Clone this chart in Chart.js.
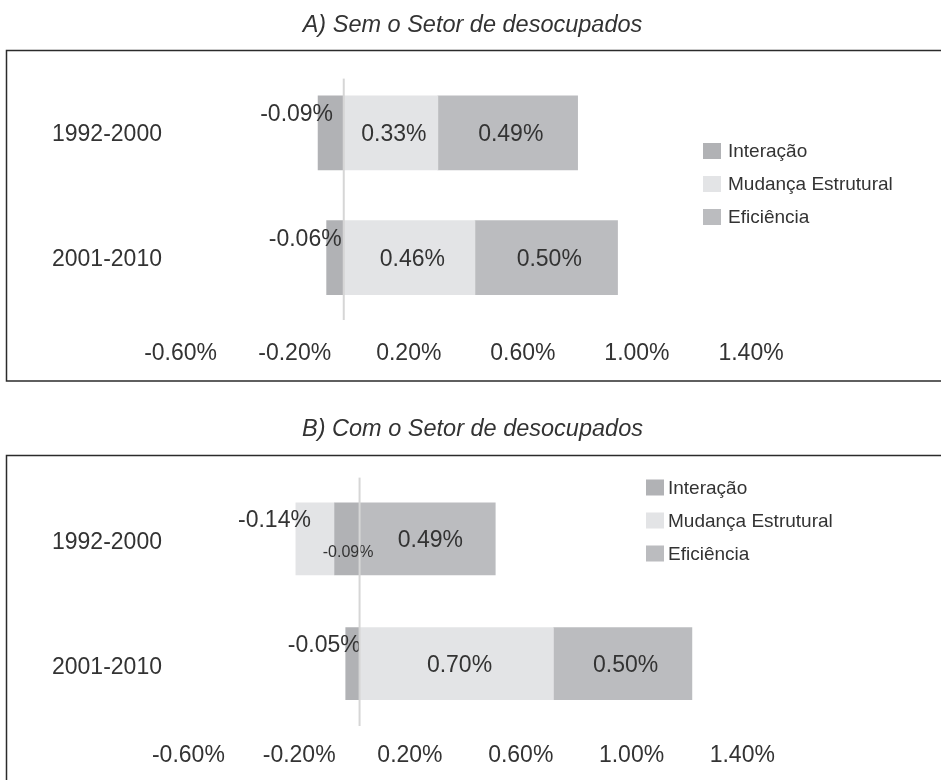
<!DOCTYPE html>
<html lang="pt">
<head>
<meta charset="utf-8">
<title>Decomposição</title>
<script src="https://cdn.jsdelivr.net/npm/chart.js@4.4.1/dist/chart.umd.min.js"></script>
<style>
  html, body { margin: 0; padding: 0; background: #fff; overflow: hidden; }
  .panel { position: absolute; left: 0; width: 941px; }
  #panelA { top: 0; height: 390px; }
  #panelB { top: 400px; height: 390px; }
</style>
</head>
<body>
<div class="panel" id="panelA"><canvas id="chartA"></canvas></div>
<div class="panel" id="panelB"><canvas id="chartB"></canvas></div>
<script>
const periods = ['1992-2000', '2001-2010'];
const seriesNames = ['Interação', 'Mudança Estrutural', 'Eficiência'];
const seriesColors = ['#b1b2b5', '#e3e4e6', '#bbbcbf'];

// A) sem o setor de desocupados
const semInteracao = [-0.09, -0.06];
const semMudanca = [0.33, 0.46];
const semEficiencia = [0.49, 0.50];

// B) com o setor de desocupados
const comInteracao = [-0.09, -0.05];
const comMudanca = [-0.14, 0.70];
const comEficiencia = [0.49, 0.50];

const xTicks = [-0.6, -0.2, 0.2, 0.6, 1.0, 1.4];

Chart.defaults.font.family = "'Liberation Sans', Arial, sans-serif";
Chart.defaults.color = '#333';

const fmt = v => v.toFixed(2) + '%';

// open box around the panel (no right edge)
const panelBox = {
  id: 'panelBox',
  beforeDraw(chart, args, opts) {
    const ctx = chart.ctx;
    const w = chart.width + 10;
    ctx.save();
    ctx.strokeStyle = '#2b2b2b';
    ctx.lineWidth = 1.5;
    ctx.beginPath();
    ctx.moveTo(w, opts.top);
    ctx.lineTo(opts.left, opts.top);
    ctx.lineTo(opts.left, opts.bottom);
    ctx.lineTo(w, opts.bottom);
    ctx.stroke();
    ctx.restore();
  }
};

const zeroLine = {
  id: 'zeroLine',
  afterDatasetsDraw(chart, args, opts) {
    const ctx = chart.ctx;
    const x = chart.scales.x.getPixelForValue(0);
    const area = chart.chartArea;
    ctx.save();
    ctx.strokeStyle = '#d6d6d6';
    ctx.lineWidth = 2;
    ctx.beginPath();
    ctx.moveTo(x, area.top + opts.inset);
    ctx.lineTo(x, area.bottom);
    ctx.stroke();
    ctx.restore();
  }
};

const barLabels = {
  id: 'barLabels',
  afterDatasetsDraw(chart) {
    const ctx = chart.ctx;
    const sets = chart.data.datasets;
    ctx.save();
    ctx.fillStyle = '#333';
    ctx.textBaseline = 'middle';
    sets.forEach((ds, i) => {
      chart.getDatasetMeta(i).data.forEach((bar, j) => {
        const v = ds.data[j];
        const p = bar.getProps(['x', 'y', 'base'], true);
        const text = fmt(v);
        if (v >= 0) {
          ctx.font = "23px 'Liberation Sans', Arial, sans-serif";
          ctx.textAlign = 'center';
          ctx.fillText(text, (p.x + p.base) / 2 + 3, p.y + 2);
          return;
        }
        const inner = sets.some((o, k) => k > i && o.data[j] < 0);
        if (inner) {
          ctx.font = "16px 'Liberation Sans', Arial, sans-serif";
          ctx.textAlign = 'center';
          ctx.fillText(text, (p.x + p.base) / 2 + 1, p.y + 14);
        } else {
          ctx.font = "23px 'Liberation Sans', Arial, sans-serif";
          ctx.textAlign = 'right';
          ctx.fillText(text, p.x + 15, p.y - 18);
        }
      });
    });
    ctx.restore();
  }
};

const sideLegend = {
  id: 'sideLegend',
  afterDraw(chart, args, opts) {
    const ctx = chart.ctx;
    ctx.save();
    ctx.font = "19px 'Liberation Sans', Arial, sans-serif";
    ctx.textAlign = 'left';
    ctx.textBaseline = 'middle';
    chart.data.datasets.forEach((ds, i) => {
      const cy = opts.y + i * opts.gap;
      ctx.fillStyle = ds.backgroundColor;
      ctx.fillRect(opts.boxX, cy - 8, 18, 16);
      ctx.fillStyle = '#333';
      ctx.fillText(ds.label, opts.textX, cy + 1);
    });
    ctx.restore();
  }
};

function buildChart(canvasId, values, cfg) {
  return new Chart(document.getElementById(canvasId), {
    type: 'bar',
    data: {
      labels: periods,
      datasets: seriesNames.map((name, i) => ({
        label: name,
        data: values[i],
        backgroundColor: seriesColors[i],
        borderWidth: 0,
        barThickness: cfg.barThickness
      }))
    },
    options: {
      indexAxis: 'y',
      responsive: true,
      maintainAspectRatio: false,
      animation: false,
      layout: { padding: cfg.padding },
      plugins: {
        legend: { display: false },
        tooltip: { enabled: false },
        title: {
          display: true,
          text: cfg.title,
          color: '#333',
          font: { size: 23.5, style: 'italic', weight: 'normal' },
          padding: cfg.titlePadding
        },
        panelBox: cfg.box,
        zeroLine: { inset: cfg.zeroInset },
        sideLegend: cfg.legend
      },
      scales: {
        x: {
          stacked: true,
          min: cfg.xMin,
          max: cfg.xMax,
          grid: { display: false, drawTicks: false },
          border: { display: false },
          afterBuildTicks: axis => { axis.ticks = xTicks.map(v => ({ value: v })); },
          ticks: {
            padding: cfg.tickPadding,
            labelOffset: cfg.xLabelOffset,
            maxRotation: 0,
            autoSkip: false,
            font: { size: 23 },
            color: '#333',
            callback: v => fmt(v)
          }
        },
        y: {
          stacked: true,
          grid: { display: false, drawTicks: false },
          border: { display: false },
          afterFit: axis => { axis.width = 22; },
          ticks: { mirror: true, padding: 22, labelOffset: cfg.yLabelOffset, font: { size: 23 }, color: '#333' }
        }
      }
    },
    plugins: [panelBox, barLabels, zeroLine, sideLegend]
  });
}

buildChart('chartA', [semInteracao, semMudanca, semEficiencia], {
  title: 'A) Sem o Setor de desocupados',
  titlePadding: { top: 11, bottom: 31.4 },
  padding: { top: 0, left: 8, right: 4, bottom: 2.4 },
  tickPadding: 20,
  xLabelOffset: 8,
  yLabelOffset: 2,
  xMin: -1.1,
  xMax: 2.08,
  barThickness: 74,
  zeroInset: 8,
  box: { left: 6.5, top: 50.5, bottom: 381 },
  legend: { boxX: 703, textX: 728, y: 151, gap: 33 }
});

buildChart('chartB', [comInteracao, comMudanca, comEficiencia], {
  title: 'B) Com o Setor de desocupados',
  titlePadding: { top: 15.2, bottom: 33.2 },
  padding: { top: 0, left: 8, right: 4, bottom: 4.4 },
  tickPadding: 16,
  xLabelOffset: -5,
  yLabelOffset: 4,
  xMin: -1.19,
  xMax: 2.085,
  barThickness: 72,
  zeroInset: 1,
  box: { left: 6.5, top: 55.5, bottom: 500 },
  legend: { boxX: 646, textX: 668, y: 87.5, gap: 33 }
});
</script>
</body>
</html>
